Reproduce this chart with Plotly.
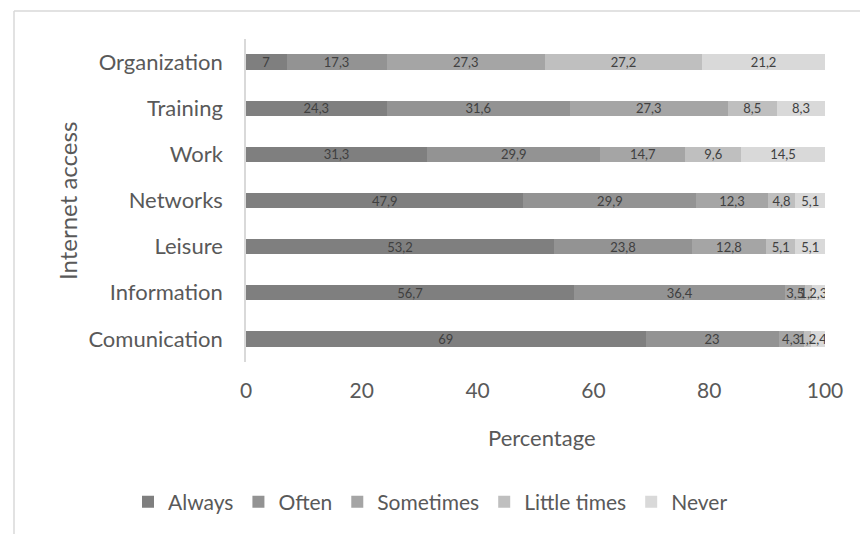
import plotly.graph_objects as go

# Purposes of Internet access, percentage of respondents per answer
categories = ["Organization", "Training", "Work", "Networks", "Leisure", "Information", "Comunication"]
always = [7, 24.3, 31.3, 47.9, 53.2, 56.7, 69]
often = [17.3, 31.6, 29.9, 29.9, 23.8, 36.4, 23]
sometimes = [27.3, 27.3, 14.7, 12.3, 12.8, 3.5, 4.3]
little_times = [27.2, 8.5, 9.6, 4.8, 5.1, 1.1, 1.3]
never = [21.2, 8.3, 14.5, 5.1, 5.1, 2.3, 2.4]

series = [
    ("Always", always, "#7f7f7f"),
    ("Often", often, "#939393"),
    ("Sometimes", sometimes, "#a5a5a5"),
    ("Little times", little_times, "#bfbfbf"),
    ("Never", never, "#d9d9d9"),
]

FONT = "Lato, 'Open Sans', sans-serif"
TXT = "#595959"

W, H = 860, 534
L, R, T, B = 246, 35, 39, 172
pw, ph = W - L - R, H - T - B


def px_x(x):
    return (x - L) / pw


def px_y(y):
    return (H - B - y) / ph


def fmt(v):
    return (f"{v:g}").replace(".", ",")


fig = go.Figure()
for name, vals, color in series:
    fig.add_trace(go.Bar(
        name=name,
        y=categories,
        x=vals,
        orientation="h",
        marker=dict(color=color, line=dict(width=0)),
        text=[fmt(v) for v in vals],
        textposition="inside",
        insidetextanchor="middle",
        textangle=0,
        textfont=dict(family=FONT, size=13, color="#404040"),
        hoverinfo="x+y+name",
    ))

# outer chart frame (top and left edges)
frame = dict(type="line", xref="paper", yref="paper", line=dict(color="#d9d9d9", width=1.5))
fig.add_shape(**frame, x0=px_x(14), x1=px_x(W + 5), y0=px_y(11), y1=px_y(11))
fig.add_shape(**frame, x0=px_x(14), x1=px_x(14), y0=px_y(11), y1=px_y(H + 5))

fig.add_annotation(
    text="Internet access", xref="paper", yref="paper",
    x=px_x(67), y=px_y(201), textangle=-90, showarrow=False,
    font=dict(family=FONT, size=24, color=TXT), xanchor="center", yanchor="middle",
)
fig.add_annotation(
    text="Percentage", xref="paper", yref="paper",
    x=px_x(542), y=px_y(437), showarrow=False,
    font=dict(family=FONT, size=22, color=TXT), xanchor="center", yanchor="middle",
)

fig.update_layout(
    width=W, height=H,
    margin=dict(l=L, r=R, t=T, b=B, autoexpand=False),
    barmode="stack",
    bargap=0.67,
    paper_bgcolor="white",
    plot_bgcolor="white",
    font=dict(family=FONT, color=TXT),
    uniformtext=dict(minsize=13, mode="show"),
    showlegend=True,
    legend=dict(
        orientation="h", x=px_x(128), y=px_y(502), xanchor="left", yanchor="middle",
        font=dict(family=FONT, size=21, color=TXT), traceorder="normal",
        itemsizing="constant", itemwidth=30,
    ),
    xaxis=dict(
        range=[0, 100], tickvals=[0, 20, 40, 60, 80, 100], showgrid=False,
        zeroline=False, showline=False, ticks="", ticklabelstandoff=14,
        tickfont=dict(family=FONT, size=21, color=TXT), fixedrange=True,
    ),
    yaxis=dict(
        categoryorder="array", categoryarray=categories[::-1],
        showgrid=False, zeroline=False, showline=True, linecolor="#d9d9d9", linewidth=1.5,
        ticks="", ticklabelstandoff=17,
        tickfont=dict(family=FONT, size=22, color=TXT), fixedrange=True,
    ),
)

fig.write_html("out.html")
